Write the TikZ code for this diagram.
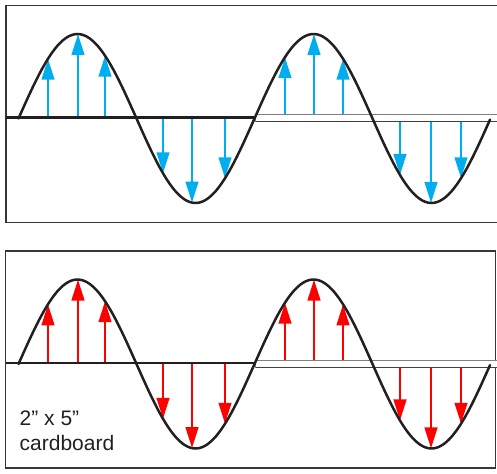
\documentclass[tikz,border=0pt]{standalone}
\usepackage{fontspec}
\setmainfont{Liberation Sans}
\usetikzlibrary{arrows.meta}
\definecolor{ink}{RGB}{35,31,32}
\definecolor{wcyan}{RGB}{0,174,239}
\definecolor{wred}{RGB}{255,0,0}
\begin{document}
\begin{tikzpicture}[x=1pt,y=-1pt,
  frame/.style={draw=ink!90, line width=1.9pt},
  axisline/.style={draw=ink, line width=2.4pt},
  stripfill/.style={fill=white},
  striptop/.style={draw=black!50, line width=1pt},
  stripbot/.style={draw=black!75, line width=1pt},
  wave/.style={draw=ink, line width=2.5pt, line cap=round},
  vec/.style={line width=2.7pt, -{Triangle[length=21pt,width=12.5pt]}},
  label/.style={anchor=base west, inner sep=0pt, text=ink, font=\fontsize{21}{25}\selectfont}
]
\useasboundingbox (0,0) rectangle (497,473);
% frames
\draw[frame] (497,5.5) -- (6,5.5) -- (6,222.5) -- (497,222.5);
\draw[frame] (5.5,251) rectangle (495.5,468);
% panels
\foreach \oy/\col in {0/wcyan, 245.5/wred}{
  \pgfmathsetmacro\cy{118.5+\oy}
  \pgfmathsetmacro\ay{117.5+\oy}
  \foreach \x in {48,78,105,163,192,225,285,314,343,400,431,461}{
    \draw[vec, \col] (\x,\ay) -- (\x,{\cy-84.5*sin((\x-18.5)/236*360)});
  }
  \draw[axisline] (6,\ay) -- (255,\ay);
  \fill[stripfill] (255,\ay-2.5) rectangle (498,\ay+4.5);
  \draw[striptop] (255,\ay-2.5) -- (498,\ay-2.5);
  \draw[stripbot] (255,\ay+4.5) -- (498,\ay+4.5);
  \draw[striptop] (255,\ay-2.5) -- (255,\ay+4.5);
  \draw[wave] plot[domain=18.5:490, samples=160, smooth] (\x,{\cy-84.5*sin((\x-18.5)/236*360)});
}
% label
\node[label] (dim) at (19.5,425) {2” x 5”};
\node[label] (mat) at (19.5,450) {cardboard};
\end{tikzpicture}
\end{document}
